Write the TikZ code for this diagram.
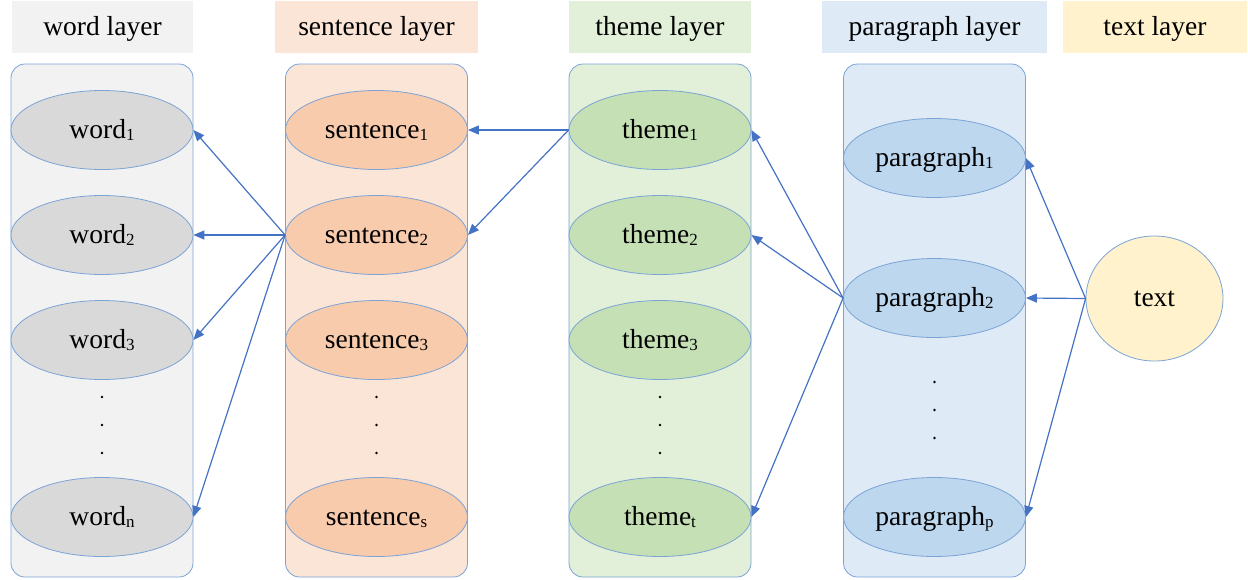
\documentclass[tikz,border=0pt]{standalone}
\usepackage{fontspec}
\setmainfont{Liberation Serif}
\usetikzlibrary{shapes.geometric,arrows.meta}

\definecolor{edgeblue}{HTML}{4472C4}
\definecolor{rimblue}{HTML}{7BA3D6}
\definecolor{wordbg}{HTML}{F2F2F2}
\definecolor{sentbg}{HTML}{FBE5D6}
\definecolor{themebg}{HTML}{E2F0D9}
\definecolor{parabg}{HTML}{DEEBF7}
\definecolor{textbg}{HTML}{FFF2CC}
\definecolor{wordfill}{HTML}{D9D9D9}
\definecolor{sentfill}{HTML}{F8CBAD}
\definecolor{themefill}{HTML}{C5E0B4}
\definecolor{parafill}{HTML}{BDD7EE}

% small index set just below the baseline
\newcommand{\idx}[1]{\raisebox{-2.5pt}{\fontsize{17}{17}\selectfont #1}}

\tikzset{
  header/.style={draw=none, minimum height=52pt, inner sep=0pt,
    font=\fontsize{27.5}{32}\selectfont, text height=20pt, text depth=4pt},
  colbox/.style={draw=rimblue, line width=0.8pt, rounded corners=14pt,
    minimum width=182pt, minimum height=513pt, inner sep=0pt},
  ell/.style={ellipse, draw=rimblue, line width=0.8pt, minimum width=182pt,
    minimum height=79pt, inner sep=0pt, font=\fontsize{27.5}{32}\selectfont,
    text height=19pt, text depth=3pt},
  dotmark/.style={circle, fill=black, inner sep=0pt, minimum size=2.8pt},
  arr/.style={draw=edgeblue, line width=1.2pt,
    -{Triangle[length=11pt,width=9pt]}},
}

\begin{document}
\begin{tikzpicture}[x=1pt,y=-1pt]
\useasboundingbox (0,0) rectangle (1248,579);

% layer titles
\node[header, fill=wordbg,  minimum width=181pt] (hw) at (102.5,27) {word layer};
\node[header, fill=sentbg,  minimum width=203pt] (hs) at (376.5,27) {sentence layer};
\node[header, fill=themebg, minimum width=182pt] (ht) at (660,27) {theme layer};
\node[header, fill=parabg,  minimum width=225pt] (hp) at (934.5,27) {paragraph layer};
\node[header, fill=textbg,  minimum width=184pt] (hx) at (1155,27) {text layer};

% layer columns
\node[colbox, fill=wordbg]  (cw) at (102,320.5) {};
\node[colbox, fill=sentbg]  (cs) at (376.5,320.5) {};
\node[colbox, fill=themebg] (ct) at (660,320.5) {};
\node[colbox, fill=parabg]  (cp) at (934.5,320.5) {};

% word layer
\node[ell, fill=wordfill] (w1) at (102,130) {word\idx{1}};
\node[ell, fill=wordfill] (w2) at (102,235) {word\idx{2}};
\node[ell, fill=wordfill] (w3) at (102,340) {word\idx{3}};
\node[ell, fill=wordfill] (wn) at (102,517) {word\idx{n}};
\node[dotmark] (wd1) at (102,397) {};
\node[dotmark] (wd2) at (102,425) {};
\node[dotmark] (wd3) at (102,453) {};

% sentence layer
\node[ell, fill=sentfill] (s1) at (376.5,130) {sentence\idx{1}};
\node[ell, fill=sentfill] (s2) at (376.5,235) {sentence\idx{2}};
\node[ell, fill=sentfill] (s3) at (376.5,340) {sentence\idx{3}};
\node[ell, fill=sentfill] (sn) at (376.5,517) {sentence\idx{s}};
\node[dotmark] (sd1) at (376.5,397) {};
\node[dotmark] (sd2) at (376.5,425) {};
\node[dotmark] (sd3) at (376.5,453) {};

% theme layer
\node[ell, fill=themefill] (t1) at (660,130) {theme\idx{1}};
\node[ell, fill=themefill] (t2) at (660,235) {theme\idx{2}};
\node[ell, fill=themefill] (t3) at (660,340) {theme\idx{3}};
\node[ell, fill=themefill] (tn) at (660,517) {theme\idx{t}};
\node[dotmark] (td1) at (660,397) {};
\node[dotmark] (td2) at (660,425) {};
\node[dotmark] (td3) at (660,453) {};

% paragraph layer
\node[ell, fill=parafill] (p1) at (934.5,158) {paragraph\idx{1}};
\node[ell, fill=parafill] (p2) at (934.5,298) {paragraph\idx{2}};
\node[ell, fill=parafill] (pn) at (934.5,517) {paragraph\idx{p}};
\node[dotmark] (pd1) at (934.5,382) {};
\node[dotmark] (pd2) at (934.5,410) {};
\node[dotmark] (pd3) at (934.5,438) {};

% text layer
\node[ell, fill=textbg, minimum width=137pt, minimum height=125pt] (tx) at (1154.5,298.5) {text};

% links between layers
\draw[arr] (s2.west) -- (w1.east);
\draw[arr] (s2.west) -- (w2.east);
\draw[arr] (s2.west) -- (w3.east);
\draw[arr] (s2.west) -- (wn.east);

\draw[arr] (t1.west) -- (s1.east);
\draw[arr] (t1.west) -- (s2.east);

\draw[arr] (p2.west) -- (t1.east);
\draw[arr] (p2.west) -- (t2.east);
\draw[arr] (p2.west) -- (tn.east);

\draw[arr] (tx.west) -- (p1.east);
\draw[arr] (tx.west) -- (p2.east);
\draw[arr] (tx.west) -- (pn.east);
\end{tikzpicture}
\end{document}
